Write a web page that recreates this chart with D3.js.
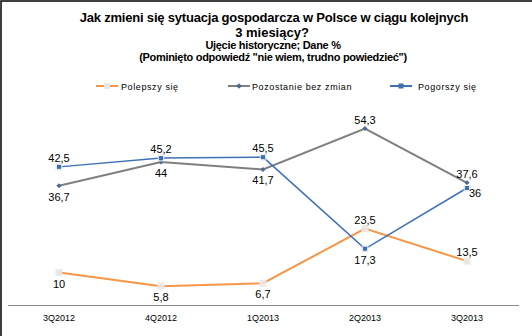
<!DOCTYPE html>
<html><head><meta charset="utf-8">
<script src="https://cdn.jsdelivr.net/npm/d3@7"></script>
<style>body{margin:0;background:#fff}svg{display:block;font-family:"Liberation Sans",Arial,sans-serif}</style>
</head><body><svg id="c" width="532" height="336"></svg>
<script>
const categories = ["3Q2012","4Q2012","1Q2013","2Q2013","3Q2013"];
const seriesNames = ["Polepszy się","Pozostanie bez zmian","Pogorszy się"];
const better = [10,5.8,6.7,23.5,13.5];
const same = [36.7,44,41.7,54.3,37.6];
const worse = [42.5,45.2,45.5,17.3,36];
const labelPos = {
  better:["below","below","below","above","above"],
  same:["below","below","below","above","above"],
  worse:["above","above","above","below","right"]
};
const colors = ["#F79646","#7F7F7F","#3F72B5"];

const svg = d3.select("#c");
svg.append("path").attr("d","M1,336V1H532").attr("fill","none").attr("stroke","#000").attr("stroke-width",1.5);

const x = d3.scaleBand().domain(categories).range([8,518]);
const y = d3.scaleLinear().domain([0,60]).range([305,110]);
const cx = c => x(c)+x.bandwidth()/2;

// titles
const t = svg.append("g").attr("text-anchor","middle").attr("font-weight","bold").attr("fill","#000");
t.append("text").attr("x",274).attr("y",22).attr("font-size",13).attr("letter-spacing","-0.2").text("Jak zmieni się sytuacja gospodarcza  w Polsce w ciągu kolejnych");
t.append("text").attr("x",272).attr("y",37).attr("font-size",13).text("3 miesiący?");
t.append("text").attr("x",273).attr("y",49).attr("font-size",11).attr("letter-spacing","-0.3").text("Ujęcie historyczne; Dane %");
t.append("text").attr("x",273).attr("y",61).attr("font-size",11).attr("letter-spacing","-0.3").text("(Pominięto odpowiedź \"nie wiem, trudno powiedzieć\")");

// axis
const ax = svg.append("g").attr("transform","translate(0,305)").call(d3.axisBottom(x).tickSize(0).tickPadding(8));
ax.select(".domain").attr("stroke","#888").attr("d","M8,0.5H519");
ax.selectAll("text").attr("font-size",9).attr("font-family","Liberation Sans, Arial, sans-serif").attr("fill","#000").attr("dy","0.9em");

const data = [
  {key:"better",vals:better,w:2,marker:"glow"},
  {key:"same",vals:same,w:2,marker:"diamond"},
  {key:"worse",vals:worse,w:1.5,marker:"square"}
];
const line = d3.line().x((d,i)=>cx(categories[i])).y(d=>y(d));
data.forEach((s,si)=>{
  svg.append("path").datum(s.vals).attr("d",line).attr("fill","none").attr("stroke",colors[si]).attr("stroke-width",s.w);
});
data.forEach((s,si)=>{
  const g = svg.append("g");
  s.vals.forEach((v,i)=>{
    const px=cx(categories[i]), py=y(v);
    if(s.marker==="glow"){
      g.append("rect").attr("x",px-3.5).attr("y",py-3.5).attr("width",7).attr("height",7).attr("fill","#e8e8e8").attr("opacity",0.9);
    } else if(s.marker==="diamond"){
      g.append("rect").attr("x",px-1.8).attr("y",py-1.8).attr("width",3.6).attr("height",3.6).attr("fill","#4a6a95").attr("transform",`rotate(45,${px},${py})`);
    } else {
      g.append("rect").attr("x",px-3.5).attr("y",py-3.5).attr("width",7).attr("height",7).attr("fill","#dde4ee").attr("opacity",0.7);
      g.append("rect").attr("x",px-2).attr("y",py-2).attr("width",4).attr("height",4).attr("fill","#3F6FAE");
    }
  });
});
// labels
const fmt = v => String(v).replace(".",",");
data.forEach((s)=>{
  s.vals.forEach((v,i)=>{
    const px=cx(categories[i]), py=y(v);
    const pos = labelPos[s.key][i];
    const tx = svg.append("text").attr("font-size",11).attr("fill","#000").text(fmt(v));
    if(pos==="above") tx.attr("x",px).attr("y",py-5).attr("text-anchor","middle");
    else if(pos==="below") tx.attr("x",px).attr("y",py+15).attr("text-anchor","middle");
    else tx.attr("x",px+2).attr("y",py+9).attr("text-anchor","start");
  });
});

// legend
const legend = [[96,121],[228,252],[390,418]];
legend.forEach((l,i)=>{
  const g = svg.append("g");
  g.append("line").attr("x1",l[0]).attr("x2",l[0]+22).attr("y1",86).attr("y2",86).attr("stroke",colors[i]).attr("stroke-width",2);
  const mx=l[0]+11;
  if(i===0) g.append("rect").attr("x",mx-3).attr("y",83).attr("width",6).attr("height",6).attr("fill","#e8e8e8");
  if(i===1) g.append("rect").attr("x",mx-2).attr("y",84).attr("width",4).attr("height",4).attr("fill","#4a6a95").attr("transform",`rotate(45,${mx},86)`);
  if(i===2) g.append("rect").attr("x",mx-2.5).attr("y",83.5).attr("width",5).attr("height",5).attr("fill","#3F6FAE");
  g.append("text").attr("x",l[1]).attr("y",89.5).attr("font-size",9).attr("letter-spacing","0.6").attr("fill","#000").text(seriesNames[i]);
});
</script></body></html>
